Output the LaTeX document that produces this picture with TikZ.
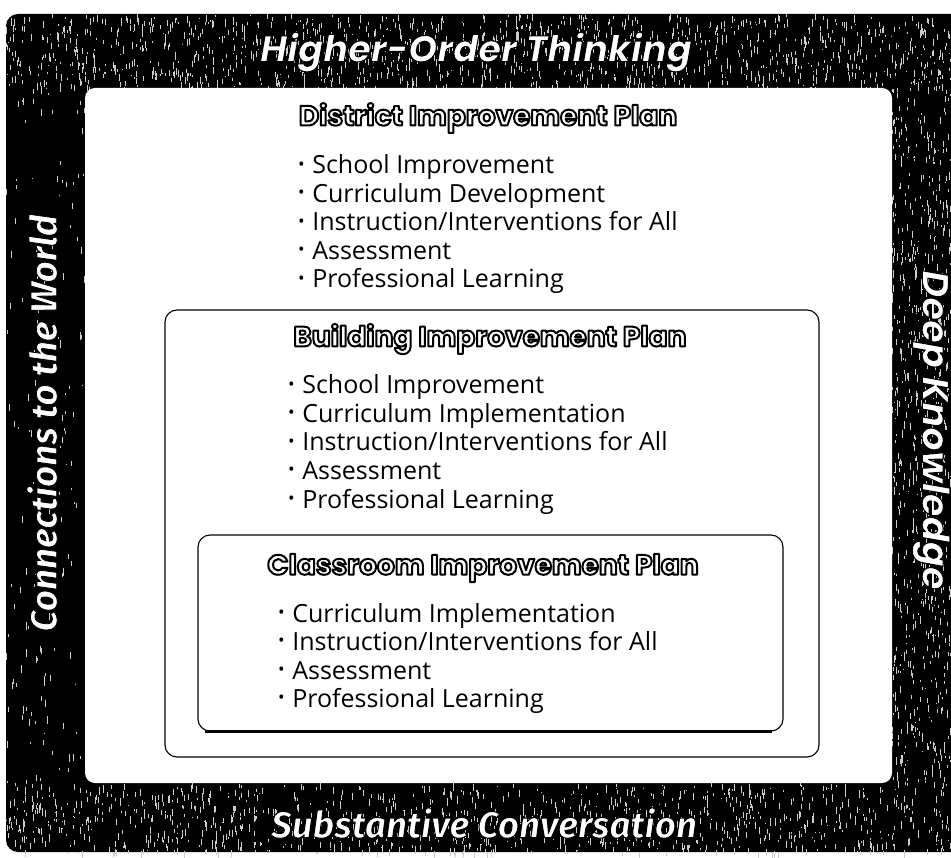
\documentclass[tikz,border=0pt]{standalone}
\usepackage{fontspec}
\usepackage{graphicx}
\setmainfont{Open Sans}
\newfontfamily\titlefont{Poppins}
\newfontfamily\sidefont{Fira Sans}
\newfontfamily\roundfont{Poppins}

\newcommand{\smalldot}{\raisebox{0.28ex}{\scalebox{0.7}{\textbullet}}\hspace{0.3em}}
% white letters with a black rim
\newcommand{\outlined}[2]{\special{pdf:literal direct 0 0 0 RG #1 w 1 j 2 Tr}#2\special{pdf:literal direct 0 Tr}}

\tikzset{
  planbox/.style={draw, line width=1.1pt, rounded corners=12pt, fill=white, inner sep=0pt},
  plantitle/.style={text=white, inner sep=0pt, font=\titlefont\bfseries\fontsize{28}{34}\selectfont},
  planitem/.style={anchor=base west, inner sep=0pt, font=\fontsize{25}{28}\selectfont},
  sidelabel/.style={text=white, inner sep=0pt, font=\sidefont\bfseries\itshape\fontsize{37}{40}\selectfont},
  roundlabel/.style={text=white, inner sep=0pt, font=\roundfont\bfseries\itshape\fontsize{37}{40}\selectfont},
  speck/.style={white!80!black, line width=1pt}
}

\begin{document}
\begin{tikzpicture}[x=1pt,y=1pt,yscale=-1,xscale=1]
\useasboundingbox (0,0) rectangle (951,858);

%Outer Frame
\fill[black] (951,14) -- (18,14) arc[start angle=270,end angle=180,radius=12] -- (6,840) arc[start angle=180,end angle=90,radius=12] -- (951,852) -- cycle;

%Frame Texture
\pgfmathsetseed{42}
\foreach \xa/\ya/\w/\h/\n in {6/14/945/74/1300, 892/88/59/695/700, 6/783/945/70/1100, 6/88/79/695/140}{
  \foreach \i in {1,...,\n}{
    \pgfmathsetmacro{\sx}{\xa+\w*rnd}
    \pgfmathsetmacro{\sy}{\ya+\h*rnd}
    \pgfmathsetmacro{\sl}{1+7*rnd}
    \draw[speck] (\sx,\sy) -- ++(0,\sl);
  }
}

%Inner White Area
\node[fill=white, rounded corners=10pt, inner sep=0pt, minimum width=807pt, minimum height=695pt] (inner) at (488.5,435.5) {};

%Building Box
\node[planbox, minimum width=654pt, minimum height=447pt] (building) at (492,533.5) {};

%Classroom Box
\node[planbox, minimum width=585pt, minimum height=196pt] (classroom) at (490.5,633) {};
\draw[line width=2.5pt] ([xshift=8pt]classroom.south west) -- ([xshift=-12pt]classroom.south east);

%District Plan
\node[plantitle] (districttitle) at (488,118) {\outlined{2}{District Improvement Plan}};
\foreach \txt [count=\k] in {School Improvement, Curriculum Development, Instruction/Interventions for All, Assessment, Professional Learning}
  \node[planitem] (dist\k) at (298,145.5+28.5*\k) {\smalldot\txt};

%Building Plan
\node[plantitle] (buildingtitle) at (490,339) {\outlined{2}{Building Improvement Plan}};
\foreach \txt [count=\k] in {School Improvement, Curriculum Implementation, Instruction/Interventions for All, Assessment, Professional Learning}
  \node[planitem] (bldg\k) at (288,365.5+28.5*\k) {\smalldot\txt};

%Classroom Plan
\node[plantitle] (classroomtitle) at (483,568) {\outlined{2}{Classroom Improvement Plan}};
\foreach \txt [count=\k] in {Curriculum Implementation, Instruction/Interventions for All, Assessment, Professional Learning}
  \node[planitem] (class\k) at (278,593.5+28.5*\k) {\smalldot\txt};

%Frame Labels
\node[roundlabel] (higher) at (476,52) {\outlined{1}{Higher-Order Thinking}};
\node[sidelabel] (substantive) at (484,823) {\outlined{1}{Substantive Conversation}};
\node[sidelabel, rotate=90] (connections) at (42,423) {\outlined{0.8}{Connections to the World}};
\node[roundlabel, rotate=-90] (deep) at (931,430) {\outlined{1}{Deep Knowledge}};

\end{tikzpicture}
\end{document}
